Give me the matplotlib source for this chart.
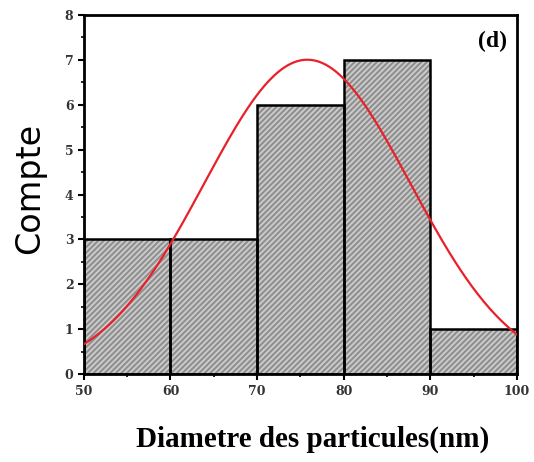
import matplotlib
matplotlib.use("Agg")
import matplotlib.pyplot as plt
import numpy as np

# histogram bins (nm) and counts
bin_edges = [50, 60, 70, 80, 90, 100]
counts = [3, 3, 6, 7, 1]

# gaussian fit parameters
fit_amp = 7.0
fit_center = 75.8
fit_sigma = 11.9

x_ticks = [50, 60, 70, 80, 90, 100]
y_ticks = [0, 1, 2, 3, 4, 5, 6, 7, 8]

plt.rcParams['hatch.linewidth'] = 1.5

fig = plt.figure(figsize=(5.34, 4.62), dpi=100)
ax = fig.add_axes([0.157, 0.19, 0.811, 0.778])

lefts = np.array(bin_edges[:-1])
widths = np.diff(bin_edges)
# hatched fill first (hatch takes the edge colour), black outlines on top
ax.bar(lefts, counts, width=widths, align='edge', color='#cdcdcd',
       edgecolor='#8f8f8f', linewidth=0, hatch='//////', zorder=2)
ax.bar(lefts, counts, width=widths, align='edge', fill=False,
       edgecolor='black', linewidth=1.8, zorder=2.5)

xs = np.linspace(bin_edges[0], bin_edges[-1], 300)
ys = fit_amp * np.exp(-(xs - fit_center) ** 2 / (2 * fit_sigma ** 2))
ax.plot(xs, ys, color='#e8202a', linewidth=1.6, zorder=3)

ax.set_xlim(50, 100)
ax.set_ylim(0, 8)
ax.set_xticks(x_ticks)
ax.set_yticks(y_ticks)
ax.set_xticks(np.arange(55, 100, 10), minor=True)
ax.set_yticks(np.arange(0.5, 8, 1), minor=True)
ax.tick_params(which='major', direction='out', length=4, width=1.5,
               labelsize=9, top=False, right=False)
ax.tick_params(which='minor', direction='out', length=2, width=1.2,
               top=False, right=False)
for lab in ax.get_xticklabels() + ax.get_yticklabels():
    lab.set_family('DejaVu Serif')
    lab.set_fontweight('bold')
    lab.set_color('#333333')
for sp in ax.spines.values():
    sp.set_linewidth(2)

ax.text(0.978, 0.955, '(d)', transform=ax.transAxes, ha='right', va='top',
        fontsize=17, fontweight='bold', family='Liberation Serif')

fig.text(0.056, 0.593, 'Compte', rotation=90, ha='center', va='center',
         fontsize=24, family='DejaVu Sans')
fig.text(0.585, 0.048, 'Diametre des particules(nm)', ha='center', va='center',
         fontsize=21, fontweight='bold', family='Liberation Serif')

fig.savefig('out.png', dpi=100)
